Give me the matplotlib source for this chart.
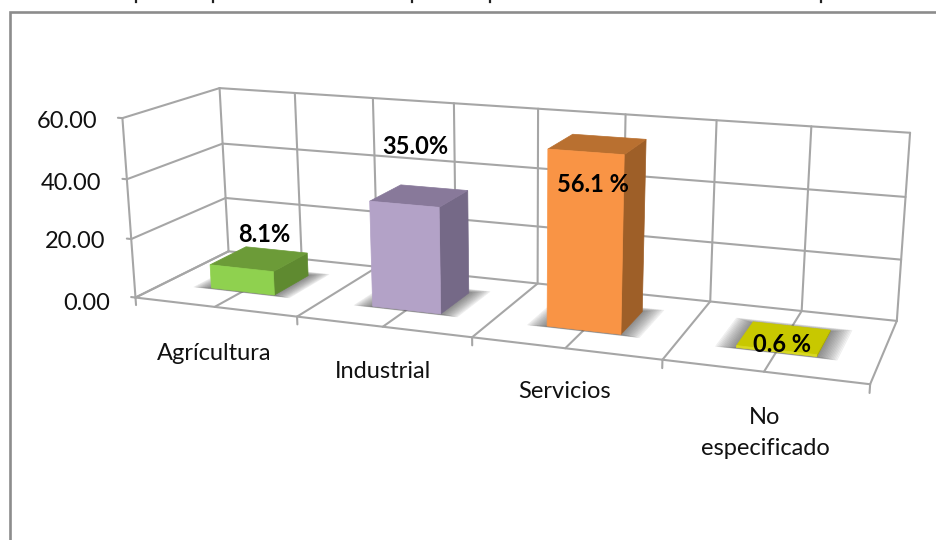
#!/usr/bin/env python3
"""
Sector shares as an Excel style 3D column chart, drawn on a pixel canvas.
"""
import matplotlib
matplotlib.use('Agg')
import matplotlib.pyplot as plt
import numpy as np
from matplotlib.patches import Polygon

plt.rcParams['font.family'] = ['Lato', 'DejaVu Sans']

categories = ['Agrícultura', 'Industrial', 'Servicios', 'No\nespecificado']
values = [8.1, 35.0, 56.1, 0.6]
value_labels = ['8.1%', '35.0%', '56.1 %', '0.6 %']
axis_ticks = [0, 20, 40, 60]
axis_tick_labels = ['0.00', '20.00', '40.00', '60.00']

front_colors = ['#8FD14F', '#B3A2C7', '#F99445', '#DADA20']
top_colors = ['#6C9B38', '#88799A', '#B97030', '#C8C800']
side_colors = ['#5F8A30', '#756987', '#9E5F28', '#A8A800']

# where the corners of the plot box land: (cat, depth, value) -> pixel
box_corners = [((0, 0, 0), (136, 297)), ((1, 0, 0), (870, 385)),
               ((1, 1, 0), (897, 320)), ((0, 1, 0), (228, 252)),
               ((0, 1, 1), (220, 88)), ((1, 1, 1), (910, 133)),
               ((0, 0, 1), (122, 118))]


def fit_camera(corners):
    """Least squares 3x4 projection from the box corners."""
    rows = []
    for (x, y, z), (u, v) in corners:
        rows.append([x, y, z, 1, 0, 0, 0, 0, -u * x, -u * y, -u * z, -u])
        rows.append([0, 0, 0, 0, x, y, z, 1, -v * x, -v * y, -v * z, -v])
    return np.linalg.svd(np.array(rows, dtype=float))[2][-1].reshape(3, 4)


camera = fit_camera(box_corners)


def project(x, y, value):
    p = camera @ np.array([x, y, value / axis_ticks[-1], 1.0])
    return p[0] / p[2], p[1] / p[2]


fig = plt.figure(figsize=(9.36, 5.4), dpi=100)
ax = fig.add_axes([0, 0, 1, 1])
ax.set_xlim(0, 936)
ax.set_ylim(540, 0)
ax.axis('off')

GRID = '#A6A6A6'


def line3d(a, b, color=GRID, lw=1.5, z=1):
    pa, pb = project(*a), project(*b)
    ax.plot([pa[0], pb[0]], [pa[1], pb[1]], color=color, lw=lw, zorder=z,
            solid_capstyle='round')


def face(points, color, z):
    ax.add_patch(Polygon([project(*p) for p in points], closed=True,
                         facecolor=color, edgecolor=color, lw=0.5, zorder=z))


# chart frame, cut off at the right and bottom of the picture
ax.plot([10, 10, 936], [540, 12, 12], color='#8C8C8C', lw=1.9, zorder=1,
        solid_joinstyle='miter')
# bottoms of the cropped title
for tx in [136, 213, 412, 490, 821]:
    ax.plot([tx, tx], [0, 2], color='#222222', lw=1.6, zorder=1)

# walls and floor
for t in axis_ticks:
    line3d((0, 0, t), (0, 1, t))
    line3d((0, 1, t), (1, 1, t))
for k in range(9):
    x = k / 8
    line3d((x, 1, 0), (x, 1, axis_ticks[-1]))
    line3d((x, 0, 0), (x, 1, 0))
line3d((0, 0, 0), (1, 0, 0))
line3d((0, 0, 0), (0, 0, axis_ticks[-1]))
for t in axis_ticks:
    line3d((-0.007, 0, t), (0, 0, t))
# ticks under the front edge point straight down
for k in range(5):
    line3d((k / 4, 0, 0), (k / 4, 0, -2.6))

half_w = 0.05
y0, y1 = 0.3, 0.7
for i, val in enumerate(values):
    xc = (i + 0.5) / len(values)
    x0, x1 = xc - half_w, xc + half_w
    # soft shadow on the floor
    for s in np.linspace(0.032, 0.002, 14):
        sx, sy = s * 0.8, s * 2.0
        face([(x0 - sx, y0 - sy * 0.3, 0), (x1 + sx, y0 - sy * 0.3, 0),
              (x1 + sx, y1 + sy, 0), (x0 - sx, y1 + sy, 0)],
             (0.25, 0.25, 0.25, 0.055), 2 + i)
    # column faces, back to front
    face([(x1, y0, 0), (x1, y1, 0), (x1, y1, val), (x1, y0, val)], side_colors[i], 2.5 + i)
    face([(x0, y0, val), (x1, y0, val), (x1, y1, val), (x0, y1, val)], top_colors[i], 2.6 + i)
    face([(x0, y0, 0), (x1, y0, 0), (x1, y0, val), (x0, y0, val)], front_colors[i], 2.7 + i)

for t, lab, pos in zip(axis_ticks, axis_tick_labels, [(110, 303), (105, 242), (101, 183), (97, 122)]):
    ax.text(pos[0], pos[1], lab, ha='right', va='center', fontsize=17, color='#111111', zorder=20)

for lab, pos in zip(categories, [(214, 353), (383, 371), (565, 392), (765, 433)]):
    ax.text(pos[0], pos[1], lab, ha='center', va='center', fontsize=17, color='#111111',
            linespacing=1.6, zorder=20)

for lab, pos in zip(value_labels, [(264, 234), (415, 147), (593, 185), (782, 345)]):
    ax.text(pos[0], pos[1], lab, ha='center', va='center', fontsize=17, fontweight='bold',
            color='black', zorder=20)

fig.savefig('out.png', dpi=100)
